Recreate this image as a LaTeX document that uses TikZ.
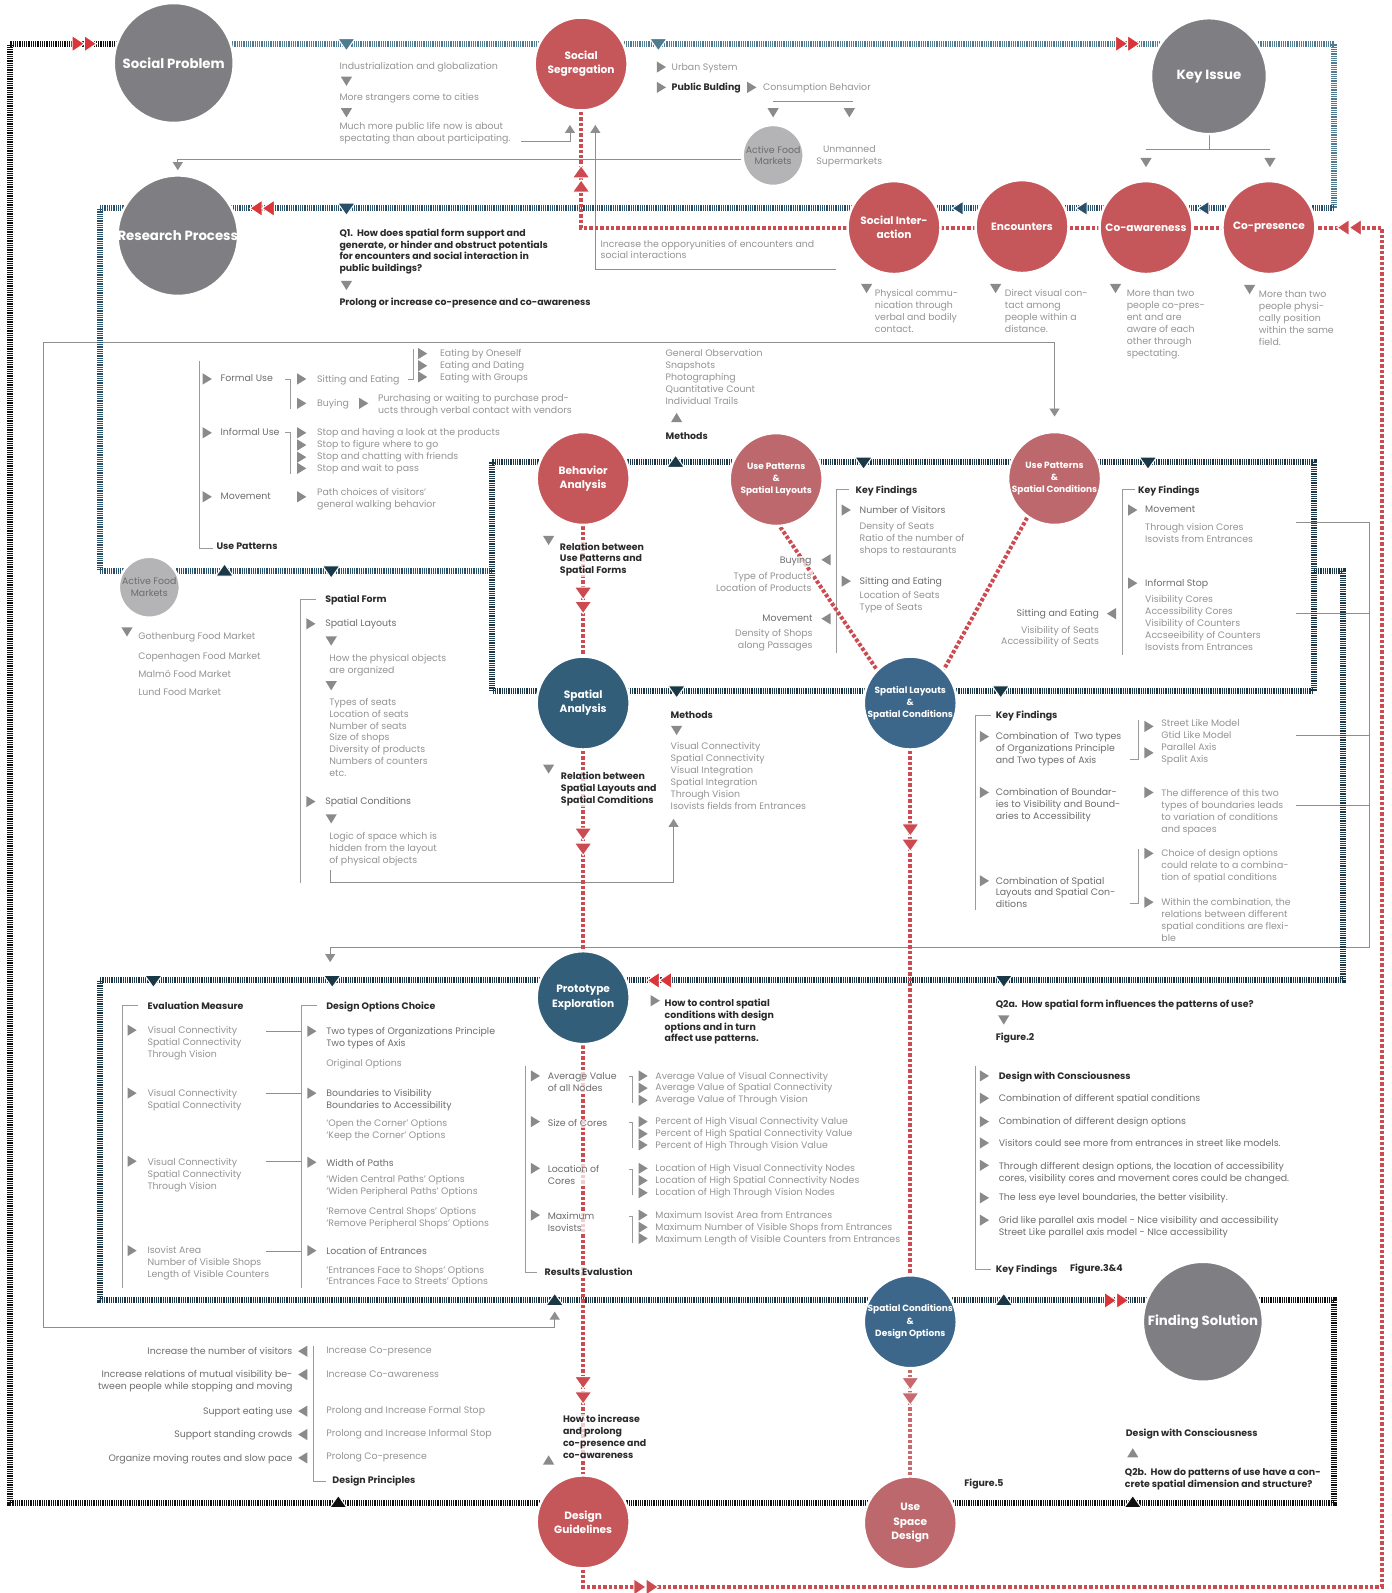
\documentclass[tikz,border=0pt]{standalone}
\usepackage{fontspec}
\setmainfont{Poppins}
\usepackage{tikz}
\usetikzlibrary{arrows.meta}
\usetikzlibrary{backgrounds}
\usetikzlibrary{positioning}

\definecolor{cgray}{HTML}{7F7F83}
\definecolor{clight}{HTML}{B4B4B6}
\definecolor{cred}{HTML}{C5575B}
\definecolor{cpink}{HTML}{BD686C}
\definecolor{cblue}{HTML}{325E79}
\definecolor{cblueb}{HTML}{3C678A}
\definecolor{txtgray}{HTML}{939393}
\definecolor{txtmid}{HTML}{6C6C6C}
\definecolor{txtdark}{HTML}{2A2A2A}
\definecolor{trigray}{HTML}{8A8A8A}
\definecolor{linegray}{HTML}{8E8E8E}
\definecolor{brkgray}{HTML}{9A9A9A}
\definecolor{barblack}{HTML}{101010}
\definecolor{bartop}{HTML}{4F7C90}
\definecolor{barblue}{HTML}{28506A}
\definecolor{barnavy}{HTML}{1A3847}
\definecolor{dashred}{HTML}{CC4B51}
\definecolor{dashpink}{HTML}{C8696E}
\definecolor{arrred}{HTML}{DA3539}

\newcommand{\fsn}{\fontsize{9.4}{11.9}\selectfont}
\newcommand{\fsb}{\fontsize{9.4}{11.9}\selectfont\bfseries}
\newcommand{\fsc}{\fontsize{10.6}{14.2}\selectfont\bfseries}
\newcommand{\fss}{\fontsize{9}{12.2}\selectfont\bfseries}
\newcommand{\fsbig}{\fontsize{13.3}{15}\selectfont\bfseries}

\newcommand{\tdn}[1]{\fill[trigray] (#1) ++(-5.5,-4.5) -- ++(11,0) -- ++(-5.5,9) -- cycle;}
\newcommand{\tup}[1]{\fill[trigray] (#1) ++(-5.5,4.5) -- ++(11,0) -- ++(-5.5,-9) -- cycle;}
\newcommand{\trt}[1]{\fill[trigray] (#1) ++(-4.5,-5.5) -- ++(0,11) -- ++(9,-5.5) -- cycle;}
\newcommand{\tlt}[1]{\fill[trigray] (#1) ++(4.5,-5.5) -- ++(0,11) -- ++(-9,-5.5) -- cycle;}
\newcommand{\bdn}[2]{\filldraw[fill=#1, draw=white, line width=1pt] (#2) ++(-8.5,-5) -- ++(17,0) -- ++(-8.5,12) -- cycle;}
\newcommand{\bup}[2]{\filldraw[fill=#1, draw=white, line width=1pt] (#2) ++(-8.5,5) -- ++(17,0) -- ++(-8.5,-12) -- cycle;}
\newcommand{\blt}[2]{\filldraw[fill=#1, draw=white, line width=1pt] (#2) ++(5,-7) -- ++(0,14) -- ++(-11,-7) -- cycle;}
\newcommand{\rrt}[2][arrred]{\filldraw[fill=#1, draw=white, line width=1pt] (#2) ++(0,-8) -- ++(0,16) -- ++(12,-8) -- cycle;
  \filldraw[fill=#1, draw=white, line width=1pt] (#2) ++(12,-8) -- ++(0,16) -- ++(12,-8) -- cycle;}
\newcommand{\rlt}[2][arrred]{\filldraw[fill=#1, draw=white, line width=1pt] (#2) -- ++(12,-8) -- ++(0,16) -- cycle;
  \filldraw[fill=#1, draw=white, line width=1pt] (#2) ++(12,0) -- ++(12,-8) -- ++(0,16) -- cycle;}
\newcommand{\rdn}[2][dashred]{\filldraw[fill=#1, draw=white, line width=1pt] (#2) ++(-8.5,-6) -- ++(17,0) -- ++(-8.5,12) -- cycle;}
\newcommand{\rup}[2][dashred]{\filldraw[fill=#1, draw=white, line width=1pt] (#2) ++(-8.5,6) -- ++(17,0) -- ++(-8.5,-12) -- cycle;}

\begin{document}
\begin{tikzpicture}[x=1.016pt, y=-1.016pt,
    circ/.style={circle, draw=white, line width=2.5pt, inner sep=0pt, align=center, text=white, font=\fsc, minimum size=93pt},
    bigc/.style={circ, fill=cgray, minimum size=120pt, font=\fsbig},
    smallc/.style={circ, fill=clight, minimum size=61pt, text=txtmid, font=\fsn},
    redc/.style={circ, fill=cred},
    pinkc/.style={circ, fill=cpink},
    bluec/.style={circ, fill=cblue},
    txt/.style={anchor=north west, yshift=4.2pt, inner sep=0pt, align=left, font=\fsn, text=txtgray},
    txtm/.style={txt, text=txtmid},
    txtr/.style={txt, anchor=north east, align=right},
    hd/.style={txt, text=txtdark, font=\fsb},
    veil/.style={fill=white, fill opacity=0.72, text opacity=1, inner sep=1pt},
    bar/.style={line width=6pt, dash pattern=on 1.25pt off 1pt},
    reddash/.style={draw=dashred, line width=4pt, dash pattern=on 3.4pt off 2pt},
    conn/.style={draw=linegray, line width=0.9pt},
    brk/.style={draw=brkgray, line width=0.9pt},
    >={Triangle[width=10pt,length=8pt]}
  ]
  \useasboundingbox (0,0) rectangle (1370,1568);

  \node[bigc] (socprob) at (171,62) {Social Problem};
  \node[redc] (socseg) at (572,63) {Social\\Segregation};
  \node[bigc, minimum size=116pt] (keyiss) at (1190,75) {Key Issue};
  \node[smallc] (afmtop) at (761,153) {Active Food\\Markets};
  \node[bigc] (research) at (175,232) {Research Process};
  \node[redc] (socint) at (880,224) {Social Inter-\\action};
  \node[redc] (encount) at (1006,223) {Encounters};
  \node[redc] (coaware) at (1128,224) {Co-awareness};
  \node[redc] (copres) at (1249,224) {Co-presence};
  \node[smallc] (afmleft) at (147,578) {Active Food\\Markets};
  \node[redc] (behav) at (574,471) {Behavior\\Analysis};
  \node[pinkc, font=\fss] (uplay) at (764,472) {Use Patterns\\\&\\Spatial Layouts};
  \node[pinkc, font=\fss] (upcond) at (1038,471) {Use Patterns\\\&\\Spatial Conditions};
  \node[bluec] (spana) at (574,692) {Spatial\\Analysis};
  \node[bluec, fill=cblueb, font=\fss] (slsc) at (896,692) {Spatial Layouts\\\&\\Spatial Conditions};
  \node[bluec] (proto) at (574,982) {Prototype\\Exploration};
  \node[bluec, fill=cblueb, font=\fss] (scdo) at (896,1301) {Spatial Conditions\\\&\\Design Options};
  \node[bigc] (findsol) at (1184,1301) {Finding Solution};
  \node[redc] (desg) at (574,1498) {Design\\Guidelines};
  \node[pinkc] (usd) at (896,1499) {Use\\Space\\Design};

  \node[txt] (indus) at (334,65) {Industrialization and globalization};
  \node[txt] (strang) at (334,96) {More strangers come to cities};
  \node[txt] (public) at (334,124) {Much more public life now is about\\spectating than about participating.};
  \node[txt] (urban) at (661,66) {Urban System};
  \node[hd] (pubb) at (661,86) {Public Bulding};
  \node[txt] (consum) at (751,86) {Consumption Behavior};
  \node[txt, anchor=north, align=center] (unman) at (836,147) {Unmanned\\Supermarkets};
  \node[hd] (q1) at (334,229) {Q1.\ \ How does spatial form support and\\generate, or hinder and obstruct potentials\\for encounters and social interaction in\\public buildings?};
  \node[hd] (prolong) at (334,297) {Prolong or increase co-presence and co-awareness};
  \node[txt] (opp) at (591,240) {Increase the opporyunities of encounters and\\social interactions};
  \node[txt] (phys) at (861,289) {Physical commu-\\nication through\\verbal and bodily\\contact.};
  \node[txt] (direct) at (989,289) {Direct visual con-\\tact among\\people within a\\distance.};
  \node[txt] (aware) at (1109,289) {More than two\\people co-pres-\\ent and are\\aware of each\\other through\\spectating.};
  \node[txt] (field) at (1239,290) {More than two\\people physi-\\cally position\\within the same\\field.};

  \node[txtm] (formal) at (217,373) {Formal Use};
  \node[txt] (sitting) at (312,373) {Sitting and Eating};
  \node[txt] (eating) at (433,348) {Eating by Oneself\\Eating and Dating\\Eating with Groups};
  \node[txt] (buying) at (312,397) {Buying};
  \node[txt] (purch) at (372,392) {Purchasing or waiting to purchase prod-\\ucts through verbal contact with vendors};
  \node[txtm] (informal) at (217,426) {Informal Use};
  \node[txt] (stops) at (312,426) {Stop and having a look at the products\\Stop to figure where to go\\Stop and chatting with friends\\Stop and wait to pass};
  \node[txtm] (movem) at (217,489) {Movement};
  \node[txt] (path) at (312,485) {Path choices of visitors’\\general walking behavior};
  \node[hd] (usepat) at (213,538) {Use Patterns};

  \node[txt] (genobs) at (655,348) {General Observation\\Snapshots\\Photographing\\Quantitative Count\\Individual Trails};
  \node[hd] (meth1) at (655,430) {Methods};
  \node[hd, veil] (relup) at (550,537) {Relation between\\Use Patterns and\\Spatial Forms};

  \node[hd] (kf1) at (842,482) {Key Findings};
  \node[txtm] (numvis) at (846,502) {Number of Visitors};
  \node[txt] (dens) at (846,518) {Density of Seats\\Ratio of the number of\\shops to restaurants};
  \node[txtm] (sit1) at (846,572) {Sitting and Eating};
  \node[txt] (locs) at (846,586) {Location of Seats\\Type of Seats};
  \node[txtr, text=txtmid, veil] (buy1) at (800,551) {Buying};
  \node[txtr, veil] (typp) at (800,566) {Type of Products\\Location of Products};
  \node[txtr, text=txtmid] (mov1) at (800,609) {Movement};
  \node[txtr] (densh) at (800,623) {Density of Shops\\along Passages};

  \node[hd] (kf2) at (1120,482) {Key Findings};
  \node[txtm] (mov2) at (1127,502) {Movement};
  \node[txt] (thru) at (1127,519) {Through vision Cores\\Isovists from Entrances};
  \node[txtm] (infst) at (1127,574) {Informal Stop};
  \node[txt] (viscor) at (1127,590) {Visibility Cores\\Accessibility Cores\\Visibility of Counters\\Accseeibility of Counters\\Isovists from Entrances};
  \node[txtr, text=txtmid] (sit2) at (1082,604) {Sitting and Eating};
  \node[txtr] (visseat) at (1082,620) {Visibility of Seats\\Accessibility of Seats};

  \node[txt] (goth) at (136,627) {Gothenburg Food Market};
  \node[txt] (cph) at (136,646) {Copenhagen Food Market};
  \node[txt] (malmo) at (136,664) {Malmö Food Market};
  \node[txt] (lund) at (136,682) {Lund Food Market};

  \node[hd] (spform) at (320,590) {Spatial Form};
  \node[txtm] (splay) at (320,614) {Spatial Layouts};
  \node[txt] (howphys) at (324,648) {How the physical objects\\are organized};
  \node[txt] (types) at (324,691) {Types of seats\\Location of seats\\Number of seats\\Size of shops\\Diversity of products\\Numbers of counters\\etc.};
  \node[txtm] (spcond) at (320,789) {Spatial Conditions};
  \node[txt] (logic) at (324,823) {Logic of space which is\\hidden from the layout\\of physical objects};
  \node[hd, veil] (relsl) at (551,763) {Relation between\\Spatial Layouts and\\Spatial Comditions};
  \node[hd] (meth2) at (660,704) {Methods};
  \node[txt] (viscon) at (660,735) {Visual Connectivity\\Spatial Connectivity\\Visual Integration\\Spatial Integration\\Through Vision\\Isovists fields from Entrances};

  \node[hd] (kf3) at (980,704) {Key Findings};
  \node[txtm] (comb1) at (980,725) {Combination of\ \ Two types\\of Organizations Principle\\and Two types of Axis};
  \node[txt] (street) at (1143,712) {Street Like Model\\Gtid Like Model};
  \node[txt] (paral) at (1143,736) {Parallel Axis\\Spalit Axis};
  \node[txtm] (comb2) at (980,780) {Combination of Boundar-\\ies to Visibility and Bound-\\aries to Accessibility};
  \node[txt] (diff) at (1143,781) {The difference of this two\\types of boundaries leads\\to variation of conditions\\and spaces};
  \node[txt] (choice) at (1143,840) {Choice of design options\\could relate to a combina-\\tion of spatial conditions};
  \node[txtm] (comb3) at (980,867) {Combination of Spatial\\Layouts and Spatial Con-\\ditions};
  \node[txt] (within) at (1143,888) {Within the combination, the\\relations between different\\spatial conditions are flexi-\\ble};

  \node[hd] (howctl) at (654,987) {How to control spatial\\conditions with design\\options and in turn\\affect use patterns.};
  \node[hd] (q2a) at (980,988) {Q2a.\ \ How spatial form influences the patterns of use?};
  \node[hd] (fig2) at (980,1021) {Figure.2};

  \node[hd] (evalm) at (145,990) {Evaluation Measure};
  \node[txt] (ev1) at (145,1014) {Visual Connectivity\\Spatial Connectivity\\Through Vision};
  \node[txt] (ev2) at (145,1076) {Visual Connectivity\\Spatial Connectivity};
  \node[txt] (ev3) at (145,1144) {Visual Connectivity\\Spatial Connectivity\\Through Vision};
  \node[txt] (ev4) at (145,1231) {Isovist Area\\Number of Visible Shops\\Length of Visible Counters};

  \node[hd] (dochoice) at (321,990) {Design Options Choice};
  \node[txtm] (do1) at (321,1015) {Two types of Organizations Principle\\Two types of Axis};
  \node[txt] (orig) at (321,1047) {Original Options};
  \node[txtm] (do2) at (321,1076) {Boundaries to Visibility\\Boundaries to Accessibility};
  \node[txt] (corner) at (321,1106) {‘Open the Corner’ Options\\‘Keep the Corner’ Options};
  \node[txtm] (do3) at (321,1145) {Width of Paths};
  \node[txt] (widen) at (321,1161) {‘Widen Central Paths’ Options\\‘Widen Peripheral Paths’ Options};
  \node[txt] (remove) at (321,1192) {‘Remove Central Shops’ Options\\‘Remove Peripheral Shops’ Options};
  \node[txtm] (do4) at (321,1232) {Location of Entrances};
  \node[txt] (entr) at (321,1250) {‘Entrances Face to Shops’ Options\\‘Entrances Face to Streets’ Options};

  \node[txtm, veil] (avg) at (538,1059) {Average Value\\of all Nodes};
  \node[txtm, veil] (size) at (538,1105) {Size of Cores};
  \node[txtm, veil] (loccore) at (538,1150) {Location of\\Cores};
  \node[txtm, veil] (maxiso) at (538,1196) {Maximum\\Isovists};
  \node[hd, veil] (reseval) at (535,1251) {Results Evalustion};
  \node[txt] (avgv) at (645,1059) {Average Value of Visual Connectivity\\Average Value of Spatial Connectivity\\Average Value of Through Vision};
  \node[txt] (perc) at (645,1104) {Percent of High Visual Connectivity Value\\Percent of High Spatial Connectivity Value\\Percent of High Through Vision Value};
  \node[txt] (lochi) at (645,1150) {Location of High Visual Connectivity Nodes\\Location of High Spatial Connectivity Nodes\\Location of High Through Vision Nodes};
  \node[txt] (maxv) at (645,1196) {Maximum Isovist Area from Entrances\\Maximum Number of Visible Shops from Entrances\\Maximum Length of Visible Counters from Entrances};

  \node[hd] (dwc1) at (983,1059) {Design with Consciousness};
  \node[txtm] (cl1) at (983,1081) {Combination of different spatial conditions};
  \node[txtm] (cl2) at (983,1104) {Combination of different design options};
  \node[txtm] (cl3) at (983,1125) {Visitors could see more from entrances in street like models.};
  \node[txtm] (cl4) at (983,1148) {Through different design options, the location of accessibility\\cores, visibility cores and movement cores could be changed.};
  \node[txtm] (cl5) at (983,1179) {The less eye level boundaries, the better visibility.};
  \node[txtm] (cl6) at (983,1201) {Grid like parallel axis model - Nice visibility and accessibility\\Street Like parallel axis model - NIce accessibility};
  \node[hd] (kf4) at (980,1249) {Key Findings};
  \node[hd] (fig34) at (1053,1248) {Figure.3\&4};

  \node[txtr, text=txtmid] (dp1) at (288,1330) {Increase the number of visitors};
  \node[txtr, text=txtmid] (dp2) at (288,1353) {Increase relations of mutual visibility be-\\tween people while stopping and moving};
  \node[txtr, text=txtmid] (dp3) at (288,1389) {Support eating use};
  \node[txtr, text=txtmid] (dp4) at (288,1412) {Support standing crowds};
  \node[txtr, text=txtmid] (dp5) at (288,1435) {Organize moving routes and slow pace};
  \node[txt] (ip1) at (321,1330) {Increase Co-presence};
  \node[txt] (ip2) at (321,1353) {Increase Co-awareness};
  \node[txt] (ip3) at (321,1388) {Prolong and Increase Formal Stop};
  \node[txt] (ip4) at (321,1411) {Prolong and Increase Informal Stop};
  \node[txt] (ip5) at (321,1434) {Prolong Co-presence};
  \node[hd] (dprin) at (327,1457) {Design Principles};
  \node[hd, veil] (howinc) at (553,1396) {How to increase\\and prolong\\co-presence and\\co-awareness};
  \node[hd] (dwc2) at (1108,1410) {Design with Consciousness};
  \node[hd] (q2b) at (1107,1449) {Q2b.\ \ How do patterns of use have a con-\\crete spatial dimension and structure?};
  \node[hd] (fig5) at (949,1460) {Figure.5};

  \coordinate (oTL) at (10,43);
  \coordinate (oBL) at (10,1479);
  \coordinate (oBR) at (1313,1479);
  \coordinate (oTR) at (1313,1280);
  \coordinate (tTR) at (1313,43);
  \coordinate (tBR) at (1313,205);
  \coordinate (rTL) at (98,205);
  \coordinate (rBL) at (98,562);
  \coordinate (fL) at (484,562);
  \coordinate (fTL) at (484,455);
  \coordinate (fBR) at (1293,680);
  \coordinate (kR) at (1322,562);
  \coordinate (kB) at (1322,965);
  \coordinate (pL) at (98,965);
  \coordinate (pLB) at (98,1280);
  \coordinate (rrTR) at (1360,224);
  \coordinate (rrBR) at (1360,1562);
  \coordinate (specE) at (513,139);
  \coordinate (specT) at (561,123);
  \coordinate (oppR) at (823,265);
  \coordinate (oppT) at (586,123);
  \coordinate (kiJ) at (1190,147);
  \coordinate (kiL) at (1128,147);
  \coordinate (kiR) at (1250,147);
  \coordinate (conL) at (761,100);
  \coordinate (conR) at (840,100);
  \coordinate (lpA) at (1038,410);
  \coordinate (lpB) at (1038,337);
  \coordinate (lpC) at (43,337);
  \coordinate (lpD) at (43,1307);
  \coordinate (lpE) at (546,1307);
  \coordinate (lpF) at (546,1291);
  \coordinate (rbTop) at (1348,514);
  \coordinate (rbBot) at (1348,933);
  \coordinate (rbEnd) at (325,947);
  \coordinate (sfA) at (325,856);
  \coordinate (sfB) at (663,869);
  \coordinate (sfC) at (663,806);

  \begin{scope}[on background layer]
    \draw[conn, ->] (specE) -| (specT);
    \draw[conn, ->] (oppR) -| (oppT);
    \draw[conn, ->, shorten >=4pt] ([yshift=-4pt]afmtop.west) -| (research.north);
    \draw[conn] (keyiss.south) -- (kiJ);
    \draw[conn] (kiL) -- (kiR);
    \draw[conn] (conL) -- (conR);
    \draw[conn, <->] (lpF) -- (lpE) -- (lpD) -- (lpC) -- (lpB) -- (lpA);
    \draw[conn, ->] (1276,514) -- (rbTop) -- (rbBot) -| (rbEnd);
    \draw[conn] (1276,604) -- (1348,604);
    \draw[conn] (1276,724) -- (1348,724);
    \draw[conn] (1276,793) -- (1348,793);
    \draw[conn, ->] (sfA) |- (sfB) -- (sfC);
    \draw[conn] (262,1015) -- (296,1015);
    \draw[conn] (262,1076) -- (296,1076);
    \draw[conn] (262,1143) -- (296,1143);
    \draw[conn] (262,1232) -- (296,1232);

    \draw[brk] (196,355) |- (210,540);
    \draw[brk] (281,373) -| (286,403);
    \draw[brk] (402,373) -| (407,344);
    \draw[brk] (281,426) -| (286,467);
    \draw[brk] (836,482) -| (823,643);
    \draw[brk] (1117,482) -| (1105,645);
    \draw[brk] (975,704) -| (960,896);
    \draw[brk] (1112,748) -| (1121,709);
    \draw[brk] (1112,889) -| (1121,836);
    \draw[brk] (311,590) -| (296,869);
    \draw[brk] (136,990) -| (121,1268);
    \draw[brk] (312,990) -| (297,1268);
    \draw[brk] (517,1049) |- (529,1252);
    \draw[brk] (619,1060) -| (623,1086);
    \draw[brk] (619,1105) -| (623,1130);
    \draw[brk] (619,1151) -| (623,1176);
    \draw[brk] (619,1197) -| (623,1223);
    \draw[brk] (960,1049) |- (975,1250);
    \draw[brk] (309,1325) |- (321,1458);

    \draw[bar, draw=barblack] (findsol |- oTR) -- (oTR) -- (oBR) -- (oBL) -- (oTL) -- (socprob |- oTL);
    \draw[bar, draw=bartop] (socprob |- oTL) -- (tTR) -- (tBR);
    \draw[bar, draw=barblue] (tBR) -- (rTL) -- (rBL) -- (fL);
    \draw[bar, draw=barnavy] (fTL) rectangle (fBR);
    \draw[bar, draw=barnavy] (fBR |- kR) -- (kR) -- (kB) -- (pL) -- (pLB) -- (findsol |- pLB);

    \draw[reddash] (socseg.south) |- (rrTR) -- (rrBR) -| (desg.south);
    \draw[reddash] (behav) -- (spana);
    \draw[reddash] (spana) -- (proto);
    \draw[reddash] (proto) -- (desg);
    \draw[reddash] (uplay.-85) -- (slsc.135);
    \draw[reddash] (upcond.-125) -- (slsc.45);
    \draw[reddash] (slsc) -- (scdo);
    \draw[reddash, draw=dashpink] (scdo) -- (usd);
  \end{scope}

  \tdn{341,80} \tdn{341,111} \tdn{761,111} \tdn{836,111} \tdn{1128,160} \tdn{1250,160}
  \tdn{341,281} \tdn{853,284} \tdn{980,284} \tdn{1098,284} \tdn{1230,285}
  \tdn{540,532} \tdn{125,622} \tdn{326,631} \tdn{326,675} \tdn{326,806}
  \tdn{540,757} \tdn{666,719} \tdn{988,1004}
  \tup{666,411} \tup{540,1437} \tup{1115,1430}
  \trt{651,66} \trt{651,86} \trt{740,86}
  \trt{204,373} \trt{297,373} \trt{416,348} \trt{416,360} \trt{416,371}
  \trt{297,397} \trt{358,397} \trt{204,426} \trt{297,426} \trt{297,438}
  \trt{297,450} \trt{297,461} \trt{204,489} \trt{297,489}
  \trt{833,502} \trt{833,572} \trt{1115,502} \trt{1115,574}
  \trt{306,614} \trt{306,789}
  \trt{969,725} \trt{1131,715} \trt{1131,741} \trt{969,780} \trt{1131,780}
  \trt{1131,840} \trt{969,867} \trt{1131,888}
  \trt{645,985}
  \trt{130,1014} \trt{130,1076} \trt{130,1143} \trt{130,1231}
  \trt{307,1015} \trt{307,1076} \trt{307,1144} \trt{307,1231}
  \trt{527,1059} \trt{527,1104} \trt{527,1150} \trt{527,1196}
  \trt{633,1059} \trt{633,1071} \trt{633,1083}
  \trt{633,1104} \trt{633,1116} \trt{633,1127}
  \trt{633,1150} \trt{633,1162} \trt{633,1174}
  \trt{633,1196} \trt{633,1208} \trt{633,1219}
  \trt{969,1059} \trt{969,1081} \trt{969,1104} \trt{969,1125}
  \trt{969,1147} \trt{969,1179} \trt{969,1201}
  \tlt{813,551} \tlt{813,609} \tlt{1094,604}
  \tlt{298,1330} \tlt{298,1353} \tlt{298,1389} \tlt{298,1412} \tlt{298,1435}

  \bdn{bartop}{341,43} \bdn{bartop}{648,43}
  \rrt{71,43} \rrt{1098,43}
  \bdn{barblue}{341,205} \rlt{246,205}
  \blt{barblue}{943,205} \blt{barblue}{1065,205} \blt{barblue}{1185,205}
  \bup{barnavy}{221,562} \bdn{barnavy}{326,562}
  \bup{barnavy}{665,455} \bdn{barnavy}{850,455} \bdn{barnavy}{1130,455}
  \bdn{barnavy}{666,680} \bdn{barnavy}{985,680}
  \bdn{barnavy}{151,965} \bdn{barnavy}{327,965} \bdn{barnavy}{988,965}
  \rlt{637,965}
  \bup{barnavy}{546,1280} \bup{barnavy}{988,1280} \rrt{1087,1280}
  \bup{barblack}{333,1479} \bup{barblack}{1115,1479}
  \rlt[dashred]{1316,224} \rrt[dashred]{624,1562}
  \rup{572,169} \rup{572,183}
  \rdn{574,584} \rdn{574,598}
  \rdn{574,821} \rdn{574,836}
  \rdn{574,1361} \rdn{574,1376}
  \rdn{896,817} \rdn{896,832}
  \rdn[dashpink]{896,1362} \rdn[dashpink]{896,1377}
\end{tikzpicture}
\end{document}
